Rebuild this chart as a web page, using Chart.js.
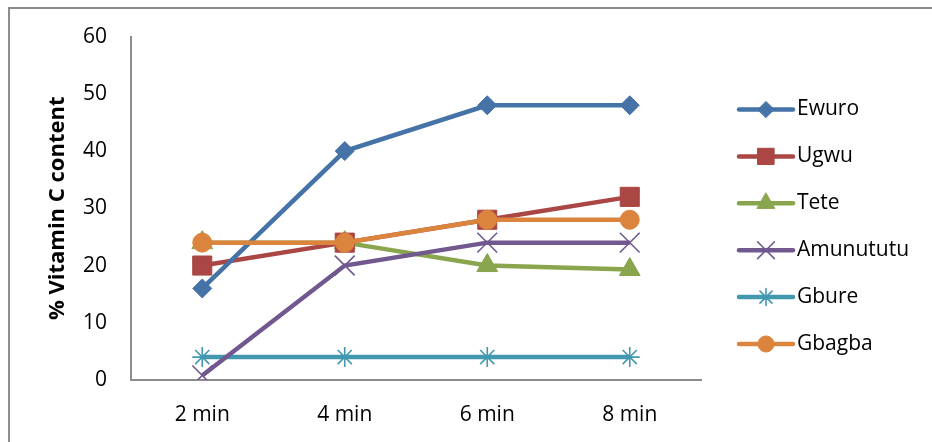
<!DOCTYPE html>
<html>
<head>
<meta charset="utf-8">
<script src="https://cdn.jsdelivr.net/npm/chart.js@4"></script>
<style>
  html, body { margin: 0; padding: 0; background: #fff; overflow: hidden; }
  #wrap { position: relative; width: 932px; height: 442px; overflow: hidden; }
  #frame { position: absolute; left: 8px; top: 7px; width: 1000px; height: 1000px;
           border: 2px solid #8c8c8c; box-sizing: border-box; }
  #chart { position: absolute; left: 0; top: 0; }
</style>
</head>
<body>
<div id="wrap">
  <div id="frame"></div>
  <canvas id="chart" width="932" height="442"></canvas>
</div>
<script>
// données
const minutes    = ['2 min', '4 min', '6 min', '8 min'];
const ewuro      = [16, 40, 48, 48];
const ugwu       = [20, 24, 28, 32];
const tete       = [24, 24, 20, 19.3];
const amunututu  = [0.8, 20, 24, 24];
const gbure      = [4, 4, 4, 4];
const gbagba     = [24, 24, 28, 28];
const yTicks     = [0, 10, 20, 30, 40, 50, 60];

const FONT = "'Open Sans', 'DejaVu Sans', sans-serif";

function serie(label, data, color, style, radius, borderW) {
    return {
        label, data,
        borderColor: color,
        backgroundColor: color,
        pointBackgroundColor: color,
        pointBorderColor: color,
        pointBorderWidth: borderW || 1,
        pointStyle: style,
        pointRadius: radius,
        borderWidth: 4.5,
        tension: 0
    };
}

const datasets = [
    serie('Ewuro',     ewuro,     '#4572A7', 'rectRot',  9.5),
    serie('Ugwu',      ugwu,      '#AA4643', 'rect',     13.5),
    serie('Tete',      tete,      '#89A54E', 'triangle', 12),
    serie('Amunututu', amunututu, '#71588F', 'crossRot', 14, 1.6),
    serie('Gbure',     gbure,     '#4198AF', 'star',     10, 1.6),
    serie('Gbagba',    gbagba,    '#DB843D', 'circle',   9.5)
];
// Gbagba passe au-dessus de Ugwu / Tete dans l'original
datasets.forEach((d, i) => { d.order = [1, 3, 4, 2, 5, 0][i]; });

/* Légende façon Excel : trait + marqueur, dessinée à droite */
const excelLegend = {
    id: 'excelLegend',
    afterDraw(chart) {
        const ctx = chart.ctx;
        const x0 = 739, x1 = 793, xt = 797;
        chart.data.datasets.forEach((ds, i) => {
            const y = 109.5 + i * 46.9;
            ctx.save();
            ctx.strokeStyle = ds.borderColor;
            ctx.lineWidth = 4.5;
            ctx.lineCap = 'round';
            ctx.beginPath();
            ctx.moveTo(x0, y);
            ctx.lineTo(x1, y);
            ctx.stroke();
            ctx.fillStyle = ds.backgroundColor;
            ctx.strokeStyle = ds.borderColor;
            ctx.lineWidth = ds.pointBorderWidth;
            Chart.helpers.drawPoint(ctx, {
                pointStyle: ds.pointStyle,
                rotation: 0,
                radius: ds.pointRadius * 0.85,
                borderWidth: ds.pointBorderWidth
            }, (x0 + x1) / 2, y);
            ctx.restore();

            ctx.save();
            ctx.fillStyle = '#000';
            ctx.font = '21px ' + FONT;
            ctx.textBaseline = 'middle';
            ctx.textAlign = 'left';
            ctx.fillText(ds.label, xt, y);
            ctx.restore();
        });
    }
};

new Chart(document.getElementById('chart'), {
    type: 'line',
    data: { labels: minutes, datasets },
    options: {
        responsive: false,
        animation: false,
        layout: { padding: { top: 36, right: 231, left: 0, bottom: 0 } },
        plugins: {
            legend: { display: false },
            tooltip: { enabled: false }
        },
        scales: {
            x: {
                type: 'category',
                offset: true,
                grid: { display: false, drawTicks: false },
                border: { display: true, color: '#8c8c8c', width: 2 },
                ticks: { color: '#000', font: { family: FONT, size: 21 }, padding: 22 },
                afterFit: (s) => { s.height = 62; }
            },
            y: {
                min: 0, max: 60,
                grid: { display: false, drawTicks: false },
                border: { display: true, color: '#8c8c8c', width: 2 },
                afterBuildTicks: (s) => { s.ticks = yTicks.map(v => ({ value: v })); },
                ticks: { color: '#000', font: { family: FONT, size: 21 }, padding: 24 },
                title: {
                    display: true,
                    text: '% Vitamin C content',
                    color: '#000',
                    font: { family: FONT, size: 22, weight: 'bold' },
                    padding: { top: 45, bottom: 0 }
                },
                afterFit: (s) => { s.width = 131; }
            }
        }
    },
    plugins: [excelLegend]
});
</script>
</body>
</html>
